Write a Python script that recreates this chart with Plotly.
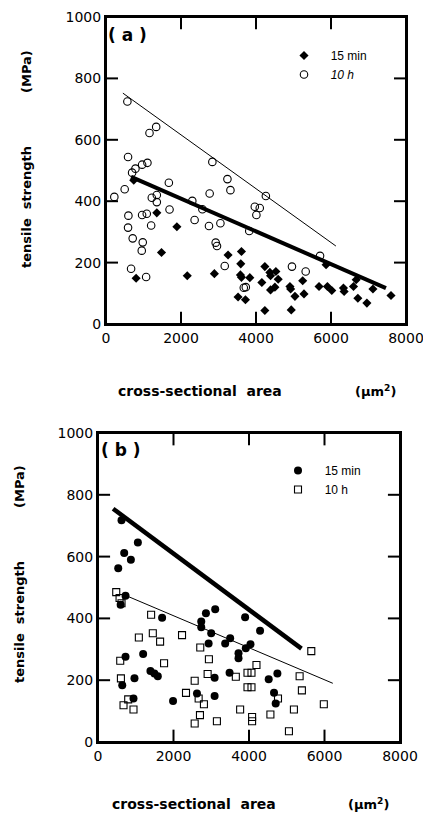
import plotly.graph_objects as go

# panel (a): 15 min (filled diamonds) and 10 h (open circles)
a15_x = [740, 1355, 1890, 1480, 803, 2167, 2890, 3255, 3612, 3594, 3585, 3612, 3835, 3522, 3719,
         4236, 4370, 4388, 4530, 4592, 4156, 4388, 4504, 4905, 4924, 5039, 5245, 5280, 4236, 4940,
         5681, 5869, 5904, 6021, 6332, 6350, 6600, 6672, 6716, 6957, 7118, 7600]
a15_y = [468, 362, 317, 233, 149, 157, 164, 225, 236, 196, 160, 152, 151, 88, 79,
         187, 168, 157, 171, 146, 135, 111, 120, 122, 114, 90, 141, 98, 44, 46,
         122, 193, 122, 109, 117, 106, 122, 144, 84, 68, 114, 93]
a10_x = [570, 1160, 1338, 588, 785, 696, 963, 1105, 1676, 498, 222, 1221, 1355, 1355, 2301,
         2764, 2836, 3238, 3318, 3968, 4100, 4010, 4263, 1694, 597, 963, 1087, 588, 1204, 2363,
         2746, 3051, 712, 980, 953, 2925, 2960, 3166, 669, 1070, 3674, 3728, 5708, 4959, 5325,
         2570, 3820]
a10_y = [725, 622, 642, 544, 506, 493, 519, 525, 460, 439, 414, 411, 420, 397, 401,
         425, 528, 472, 436, 382, 378, 355, 417, 373, 353, 355, 359, 314, 321, 339,
         319, 328, 279, 266, 239, 265, 254, 189, 180, 153, 118, 120, 222, 187, 171,
         374, 303]
a15_fit_x = [670, 7465]
a15_fit_y = [479, 117]
a10_fit_x = [450, 6130]
a10_fit_y = [752, 254]

# panel (b): 15 min (filled circles) and 10 h (open squares)
b15_x = [623, 1056, 694, 871, 536, 729, 600, 1698, 2859, 3105, 2735, 2735, 2999, 2930, 3369,
         3501, 3897, 3722, 3722, 3915, 4039, 729, 1196, 1389, 1494, 1584, 966, 642, 940, 1988,
         2622, 3089, 3089, 3485, 4293, 4522, 4752, 4663, 4707]
b15_y = [718, 646, 612, 590, 562, 473, 444, 402, 417, 430, 390, 371, 352, 319, 319,
         336, 404, 287, 271, 303, 316, 276, 285, 230, 222, 213, 206, 184, 141, 133,
         157, 208, 149, 224, 360, 203, 222, 159, 125]
b10_x = [483, 571, 623, 1407, 1082, 1452, 1645, 2226, 2709, 2938, 1750, 589, 607, 2904, 2561,
         3651, 2331, 800, 676, 940, 2666, 2806, 2701, 2561, 3150, 3765, 5650, 4198, 4066, 3960,
         3960, 4066, 4768, 5341, 5401, 5190, 5982, 4567, 4082, 4082, 5058]
b10_y = [485, 466, 449, 412, 338, 352, 325, 346, 306, 268, 255, 263, 206, 220, 198,
         211, 159, 138, 119, 105, 141, 122, 87, 60, 67, 105, 294, 249, 224, 224,
         177, 177, 141, 213, 167, 105, 122, 89, 81, 67, 35]
b15_fit_x = [400, 5390]
b15_fit_y = [755, 302]
b10_fit_x = [700, 6220]
b10_fit_y = [476, 190]

x_range = [0, 8000]
y_range = [0, 1000]
x_ticks = [0, 2000, 4000, 6000, 8000]
y_ticks = [0, 200, 400, 600, 800, 1000]

# page body keeps an 8px margin, so the figure is drawn 8px in from the window corner
PAD = 8
W, H = 431 - PAD, 815 - PAD
FONT = 'DejaVu Sans'
SP = '\u00a0\u00a0'


def px(x):
    return (x - PAD) / W


def py(y):
    return 1 - (y - PAD) / H


def frame_and_ticks(xa, ya):
    # box round the plot area plus inward ticks on all four sides (about 12 px long)
    x0, x1 = x_range
    y0, y1 = y_range
    tx = (x1 - x0) * 0.04
    ty = (y1 - y0) * 0.04
    fx = [x0, x1, x1, x0, x0, None]
    fy = [y0, y0, y1, y1, y0, None]
    for t in x_ticks[1:-1]:
        fx += [t, t, None, t, t, None]
        fy += [y0, y0 + ty, None, y1, y1 - ty, None]
    for t in y_ticks[1:-1]:
        fx += [x0, x0 + tx, None, x1, x1 - tx, None]
        fy += [t, t, None, t, t, None]
    return go.Scatter(x=fx, y=fy, mode='lines', line=dict(color='black', width=2),
                      showlegend=False, hoverinfo='skip', xaxis=xa, yaxis=ya)


fig = go.Figure()

# panel a
fig.add_trace(go.Scatter(x=a15_fit_x, y=a15_fit_y, mode='lines', line=dict(color='black', width=4),
                         showlegend=False, xaxis='x', yaxis='y'))
fig.add_trace(go.Scatter(x=a10_fit_x, y=a10_fit_y, mode='lines', line=dict(color='black', width=1),
                         showlegend=False, xaxis='x', yaxis='y'))
fig.add_trace(go.Scatter(x=a15_x, y=a15_y, mode='markers', name=SP + '15 min',
                         marker=dict(symbol='diamond', size=7, color='black'),
                         xaxis='x', yaxis='y', legend='legend'))
fig.add_trace(go.Scatter(x=a10_x, y=a10_y, mode='markers', name=SP + '<i>10 h</i>',
                         marker=dict(symbol='circle-open', size=7.5, color='black', line=dict(width=1.1)),
                         xaxis='x', yaxis='y', legend='legend'))
fig.add_trace(frame_and_ticks('x', 'y'))

# panel b
fig.add_trace(go.Scatter(x=b15_fit_x, y=b15_fit_y, mode='lines', line=dict(color='black', width=4.5),
                         showlegend=False, xaxis='x2', yaxis='y2'))
fig.add_trace(go.Scatter(x=b10_fit_x, y=b10_fit_y, mode='lines', line=dict(color='black', width=1),
                         showlegend=False, xaxis='x2', yaxis='y2'))
fig.add_trace(go.Scatter(x=b15_x, y=b15_y, mode='markers', name=SP + '15 min',
                         marker=dict(symbol='circle', size=8, color='black'),
                         xaxis='x2', yaxis='y2', legend='legend2'))
fig.add_trace(go.Scatter(x=b10_x, y=b10_y, mode='markers', name=SP + '10 h',
                         marker=dict(symbol='square-open', size=7, color='black', line=dict(width=1.1)),
                         xaxis='x2', yaxis='y2', legend='legend2'))
fig.add_trace(frame_and_ticks('x2', 'y2'))


def xax(domain, anchor):
    return dict(domain=domain, anchor=anchor, range=x_range, tickvals=x_ticks, automargin=False,
                ticks='', showline=True, linecolor='black', linewidth=2, mirror=True,
                showgrid=False, zeroline=False,
                tickfont=dict(family='DejaVu Sans', size=14, color='black'))


def yax(domain, anchor):
    return dict(domain=domain, anchor=anchor, range=y_range, tickvals=y_ticks, automargin=False,
                ticks='', showline=True, linecolor='black', linewidth=2, mirror=True,
                showgrid=False, zeroline=False,
                tickfont=dict(family='DejaVu Sans', size=14, color='black'))


def ann(text, x, y, size=14, angle=0):
    return dict(text=text, x=px(x), y=py(y), xref='paper', yref='paper', showarrow=False,
                xanchor='center', yanchor='middle', textangle=angle,
                font=dict(family=FONT, size=size, color='black', weight='bold'))


fig.update_layout(
    width=W, height=H, margin=dict(l=0, r=0, t=0, b=0, autoexpand=False),
    paper_bgcolor='white', plot_bgcolor='rgba(0,0,0,0)',
    xaxis=xax([px(106), px(406)], 'y'),
    yaxis=yax([py(324), py(17)], 'x'),
    xaxis2=xax([px(98), px(400)], 'y2'),
    yaxis2=yax([py(742), py(433)], 'x2'),
    legend=dict(x=px(284), y=py(41), xanchor='left', yanchor='top', bgcolor='rgba(0,0,0,0)',
                font=dict(family='Liberation Sans', size=12, color='black'), tracegroupgap=0),
    legend2=dict(x=px(278), y=py(456), xanchor='left', yanchor='top', bgcolor='rgba(0,0,0,0)',
                 font=dict(family='Liberation Sans', size=12, color='black'), tracegroupgap=0),
    annotations=[
        ann('( a )', 127, 35, 17),
        ann('( b )', 121, 450, 17),
        ann('tensile  strength', 27, 207, 13, -90),
        ann('(MPa)', 27, 72, 13, -90),
        ann('tensile  strength', 19, 622, 13, -90),
        ann('(MPa)', 19, 487, 13, -90),
        ann('cross-sectional  area', 200, 391, 14),
        ann('(\u03bcm<sup>2</sup>)', 375, 391, 13),
        ann('cross-sectional  area', 194, 804, 14),
        ann('(\u03bcm<sup>2</sup>)', 368, 804, 13),
    ],
)

fig.write_html("out.html")
